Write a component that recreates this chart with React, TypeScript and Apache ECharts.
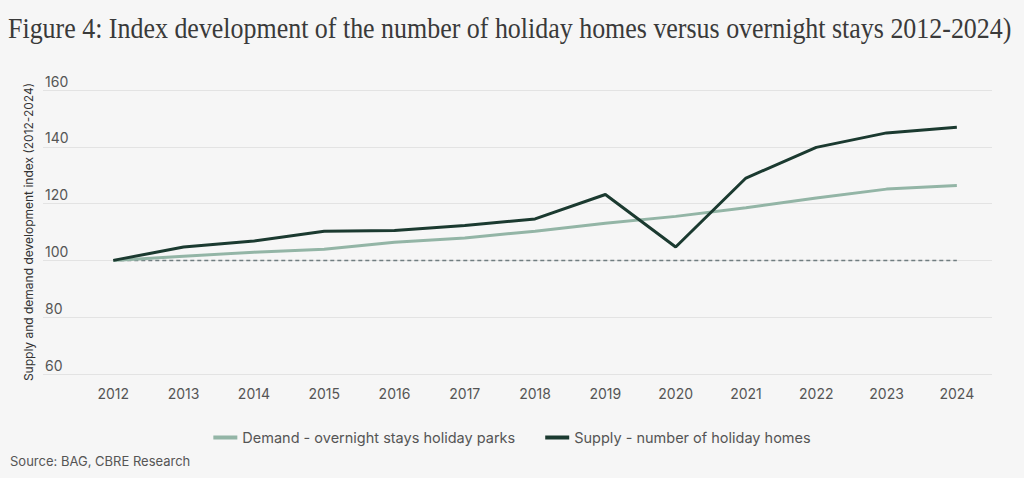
import React, { useEffect, useRef } from "react";
import * as echarts from "echarts";

const years = [2012, 2013, 2014, 2015, 2016, 2017, 2018, 2019, 2020, 2021, 2022, 2023, 2024];
const demand = [100, 101.5, 102.9, 103.9, 106.4, 107.9, 110.3, 113.1, 115.5, 118.5, 122.0, 125.1, 126.4];
const supply = [100, 104.7, 106.8, 110.3, 110.5, 112.3, 114.6, 123.2, 104.7, 129.0, 139.8, 144.9, 146.9];
const baseline = [100, 100, 100, 100, 100, 100, 100, 100, 100, 100, 100, 100, 100];
const yTicks = [60, 80, 100, 120, 140, 160];

const TITLE = "Figure 4: Index development of the number of holiday homes versus overnight stays 2012-2024)";
const SOURCE = "Source: BAG, CBRE Research";
const DEMAND_NAME = "Demand - overnight stays holiday parks";
const SUPPLY_NAME = "Supply - number of holiday homes";
const Y_NAME = "Supply and demand development index (2012-2024)";

const SANS = "Inter, Roboto, 'Noto Sans', sans-serif";

export default function App() {
  const ref = useRef<HTMLDivElement>(null);
  useEffect(() => {
    document.body.style.margin = "0";
    const chart = echarts.init(ref.current!, null, { renderer: "svg" });
    const pair = (arr: number[]) => years.map((y, i) => [y, arr[i]]);
    chart.setOption({
      animation: false,
      backgroundColor: "#f6f6f6",
      legend: {
        data: [DEMAND_NAME, SUPPLY_NAME],
        left: "center",
        top: 425,
        icon: "rect",
        itemWidth: 24,
        itemHeight: 4,
        itemGap: 30,
        textStyle: { fontFamily: SANS, fontSize: 14.5, color: "#555" },
      },
      graphic: [
        {
          type: "text",
          x: 8,
          y: 13,
          scaleX: 0.895,
          style: {
            text: TITLE,
            fontFamily: "'Liberation Serif', 'DejaVu Serif', serif",
            fontSize: 29,
            fill: "#3a3a3a",
          },
        },
        {
          type: "text",
          left: 10,
          top: 454,
          style: { text: SOURCE, fontFamily: SANS, fontSize: 13, fill: "#555" },
        },
      ],
      grid: { left: 43, right: 32, top: 90, bottom: 104 },
      xAxis: {
        type: "value",
        min: 2011,
        max: 2024.5,
        interval: 1,
        axisLine: { show: false },
        axisTick: { show: false },
        splitLine: { show: false },
        axisLabel: {
          margin: 12,
          fontFamily: SANS,
          fontSize: 14,
          color: "#555",
          showMinLabel: false,
          showMaxLabel: false,
          formatter: (v: number) => (years.indexOf(v) >= 0 ? String(v) : ""),
        },
      },
      yAxis: {
        type: "value",
        min: yTicks[0],
        max: yTicks[yTicks.length - 1],
        interval: 20,
        name: Y_NAME,
        nameLocation: "middle",
        nameGap: 8,
        nameTextStyle: { fontFamily: SANS, fontSize: 12, color: "#333" },
        axisLine: { show: false },
        axisTick: { show: false },
        splitLine: { lineStyle: { color: "#e3e3e3", width: 1 } },
        axisLabel: {
          inside: true,
          margin: 2,
          verticalAlign: "bottom",
          align: "left",
          fontFamily: SANS,
          fontSize: 14,
          color: "#555",
          padding: [0, 0, 2, 0],
        },
      },
      series: [
        {
          name: "Baseline",
          type: "line",
          data: pair(baseline),
          symbol: "none",
          silent: true,
          lineStyle: { color: "#707d80", width: 1.5, type: [4, 3] },
          z: 1,
        },
        {
          name: DEMAND_NAME,
          type: "line",
          data: pair(demand),
          symbol: "none",
          itemStyle: { color: "#93b5a6" },
          lineStyle: { color: "#93b5a6", width: 3 },
          z: 2,
        },
        {
          name: SUPPLY_NAME,
          type: "line",
          data: pair(supply),
          symbol: "none",
          itemStyle: { color: "#1b3a30" },
          lineStyle: { color: "#1b3a30", width: 3 },
          z: 3,
        },
      ],
    });
    return () => chart.dispose();
  }, []);
  return <div ref={ref} style={{ width: 1024, height: 478, position: "absolute", left: 0, top: 0 }} />;
}
